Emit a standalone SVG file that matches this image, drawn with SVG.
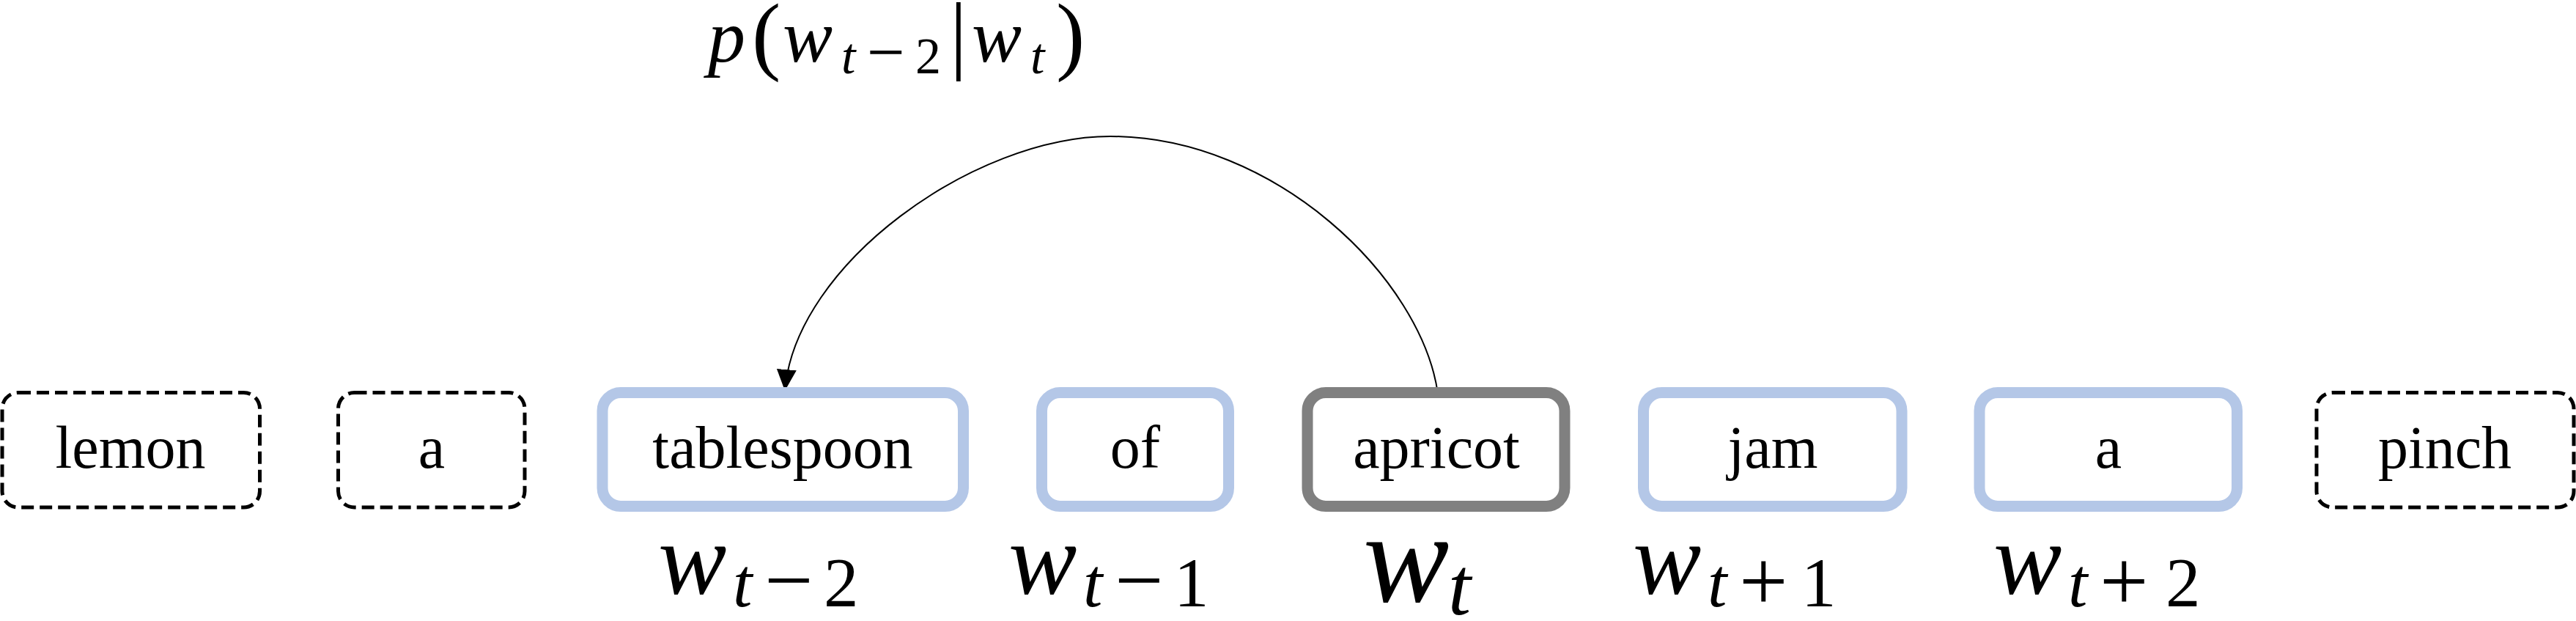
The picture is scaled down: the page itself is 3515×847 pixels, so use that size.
<svg xmlns="http://www.w3.org/2000/svg" width="3515" height="847" viewBox="0 0 3515 847">
<style>
.ctx{fill:#ffffff;stroke:#000000;stroke-width:5;stroke-dasharray:17 8}
.win{fill:#ffffff;stroke:#b4c7e7;stroke-width:15}
.tgt{fill:#ffffff;stroke:#808080;stroke-width:15}
.word{font-family:"Liberation Serif","Times New Roman",serif;font-size:82px;fill:#000;text-anchor:middle}
.f{font-family:"Liberation Serif","Times New Roman",serif;fill:#000}
.it{font-style:italic}
.w{font-size:140px;font-style:italic}
.sub{font-size:95px}
.op{font-size:118px}
.edge{fill:none;stroke:#000;stroke-width:2}
</style>
<defs>
<marker id="ah" markerUnits="userSpaceOnUse" markerWidth="30" markerHeight="30" viewBox="0 0 30 30" refX="29" refY="15" orient="auto">
<path d="M0,1.5 L29,15 L0,28.5 Z" fill="#000"/>
</marker>
</defs>
<rect x="0" y="0" width="3515" height="847" fill="#ffffff"/>
<g id="connectors">
<path class="edge" d="M1962,537 C1940,380 1740,186 1515,186 C1330,186 1085,360 1071,533" marker-end="url(#ah)"/>
</g>
<g id="node-lemon"><rect class="ctx" x="3" y="535.5" width="351.5" height="156.5" rx="22"/><text class="word" x="178" y="638">lemon</text></g>
<g id="node-a1"><rect class="ctx" x="461.5" y="535.5" width="254.5" height="156.5" rx="22"/><text class="word" x="589" y="638">a</text></g>
<g id="node-tablespoon"><rect class="win" x="822" y="535.5" width="492.5" height="155" rx="25"/><text class="word" x="1068" y="638">tablespoon</text></g>
<g id="node-of"><rect class="win" x="1421.5" y="535.5" width="255" height="155" rx="25"/><text class="word" x="1549" y="638">of</text></g>
<g id="node-apricot"><rect class="tgt" x="1784" y="535.5" width="351" height="155" rx="25"/><text class="word" x="1960" y="638">apricot</text></g>
<g id="node-jam"><rect class="win" x="2242.5" y="535.5" width="352.5" height="155" rx="25"/><text class="word" x="2419" y="638">jam</text></g>
<g id="node-a2"><rect class="win" x="2701" y="535.5" width="351.5" height="155" rx="25"/><text class="word" x="2877" y="638">a</text></g>
<g id="node-pinch"><rect class="ctx" x="3161" y="535.5" width="351" height="156.5" rx="22"/><text class="word" x="3336" y="638">pinch</text></g>
<g id="labels">
<text class="f"><tspan class="w" x="898" y="810">w</tspan><tspan class="sub it" x="1000" y="827">t</tspan><tspan class="op" x="1043" y="831">−</tspan><tspan class="sub" x="1124" y="827">2</tspan></text>
<text class="f"><tspan class="w" x="1376" y="810">w</tspan><tspan class="sub it" x="1478" y="827">t</tspan><tspan class="op" x="1521" y="831">−</tspan><tspan class="sub" x="1602" y="827">1</tspan></text>
<text class="f"><tspan x="1860" y="820" font-size="176" font-style="italic">w</tspan><tspan x="1976" y="838" font-size="112" font-style="italic">t</tspan></text>
<text class="f"><tspan class="w" x="2228" y="810">w</tspan><tspan class="sub it" x="2330" y="827">t</tspan><tspan class="op" x="2373" y="833">+</tspan><tspan class="sub" x="2458" y="827">1</tspan></text>
<text class="f"><tspan class="w" x="2720" y="810">w</tspan><tspan class="sub it" x="2822" y="827">t</tspan><tspan class="op" x="2865" y="833">+</tspan><tspan class="sub" x="2955" y="827">2</tspan></text>
</g>
<g id="formula">
<text class="f" font-size="102"><tspan class="it" x="966" y="84">p</tspan><tspan x="1026" y="87" font-size="118">(</tspan><tspan class="it" x="1068" y="84">w</tspan><tspan class="it" x="1148" y="100" font-size="70">t</tspan><tspan x="1183" y="102" font-size="92">−</tspan><tspan x="1249" y="100" font-size="70">2</tspan><tspan x="1296" y="86" font-size="118">|</tspan><tspan class="it" x="1326" y="84">w</tspan><tspan class="it" x="1406" y="100" font-size="70">t</tspan><tspan x="1441" y="87" font-size="118">)</tspan></text>
</g>
</svg>
